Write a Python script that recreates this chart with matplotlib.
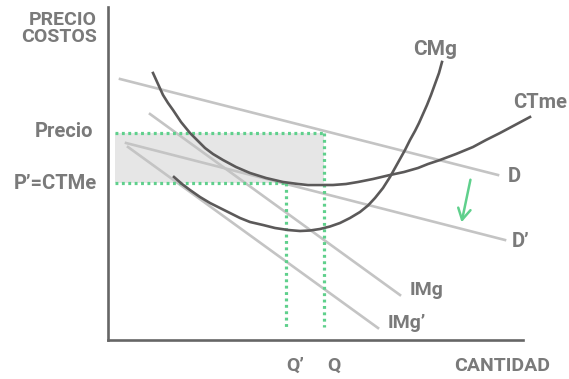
import matplotlib.pyplot as plt

plt.rcParams['font.family'] = ['Roboto', 'DejaVu Sans']

# demand lines (start, end)
d_x = [12, 390]
d_y = [261, 165]
d2_x = [18, 397]
d2_y = [197, 100]
img_x = [42, 292]
img_y = [226, 45]
img2_x = [20, 270]
img2_y = [193, 12]

# average total cost
ctme_x = [45, 50, 55, 60, 65, 73, 82, 90, 97, 105, 115, 128, 142, 158, 175, 190, 200, 212,
          225, 238, 250, 265, 282, 296, 310, 320, 332, 348, 365, 378, 392, 407, 422]
ctme_y = [267, 256, 245, 237, 230, 218, 207, 199, 192, 186, 180, 173, 167, 162, 158, 156, 155, 155,
          155, 156, 158, 161, 165, 168, 172, 176, 180, 186, 193, 200, 207, 215, 223]

# marginal cost
cmg_x = [66, 74, 82, 92, 102, 112, 122, 132, 142, 155, 167, 180, 192, 202, 212, 222, 232, 242,
         252, 260, 267, 275, 282, 287, 292, 297, 302, 307, 311, 315, 319, 323, 327, 331, 334]
cmg_y = [163, 156, 150, 143, 137, 132, 127, 122, 118, 115, 112, 110, 109, 109.5, 111, 113.5, 117, 122,
         128, 134.5, 142, 152, 163, 172, 181, 190, 200, 209, 217, 226, 235, 245, 256, 267, 278]

precio = 207
p_ctme = 157
q1 = 178
q = 216

gray_txt = "#7a7a7a"
green = "#5fd08c"

fig = plt.figure(figsize=(5.69, 3.79), dpi=100)
ax = fig.add_axes([108/569, 39/379, 415/569, 333/379])
ax.set_xlim(0, 415)
ax.set_ylim(0, 333)
for s in ["top", "right"]:
    ax.spines[s].set_visible(False)
for s in ["left", "bottom"]:
    ax.spines[s].set_color("#666666")
    ax.spines[s].set_linewidth(1.9)
ax.set_xticks([])
ax.set_yticks([])

# shaded area
ax.fill_between([7, q], p_ctme, precio, color="#e6e6e6", lw=0, zorder=1)

ax.plot(d_x, d_y, color="#c4c4c4", lw=1.9, clip_on=False, zorder=2)
ax.plot(d2_x, d2_y, color="#c4c4c4", lw=1.9, clip_on=False, zorder=2)
ax.plot(img_x, img_y, color="#c4c4c4", lw=1.9, clip_on=False, zorder=2)
ax.plot(img2_x, img2_y, color="#c4c4c4", lw=1.9, clip_on=False, zorder=2)

ax.plot(ctme_x, ctme_y, color="#5b5959", lw=1.9, clip_on=False, zorder=4, solid_joinstyle="round")
ax.plot(cmg_x, cmg_y, color="#5b5959", lw=1.9, clip_on=False, zorder=4, solid_joinstyle="round")

dots = (0, (0.9, 1.1))
ax.plot([7, q], [precio, precio], color=green, lw=2.3, ls=dots, zorder=3)
ax.plot([7, q1], [p_ctme, p_ctme], color=green, lw=2.3, ls=dots, zorder=3)
ax.plot([q1, q1], [p_ctme, 13], color=green, lw=2.3, ls=dots, zorder=3)
ax.plot([q, q], [precio, 13], color=green, lw=2.3, ls=dots, zorder=3)

ax.annotate("", xy=(353, 115), xytext=(363, 163),
            arrowprops=dict(arrowstyle="->,head_length=0.8,head_width=0.45", color=green, lw=1.8),
            annotation_clip=False)

kw = dict(color=gray_txt, fontweight="bold", va="baseline", clip_on=False)
ax.text(-11, 315, "PRECIO", ha="right", fontsize=14, **kw)
ax.text(-11, 298, "COSTOS", ha="right", fontsize=14, **kw)
ax.text(-15, 203, "Precio", ha="right", fontsize=14.5, **kw)
ax.text(-11, 151, "P’=CTMe", ha="right", fontsize=14.5, **kw)
ax.text(305, 285, "CMg", ha="left", fontsize=15, **kw)
ax.text(405, 232, "CTme", ha="left", fontsize=14.5, **kw)
ax.text(400, 158, "D", ha="left", fontsize=14.5, **kw)
ax.text(404, 93, "D’", ha="left", fontsize=14.5, **kw)
ax.text(302, 45, "IMg", ha="left", fontsize=14, **kw)
ax.text(280, 12, "IMg’", ha="left", fontsize=14, **kw)
ax.text(178, -31, "Q’", ha="left", fontsize=14, **kw)
ax.text(219, -31, "Q", ha="left", fontsize=14, **kw)
ax.text(442, -31, "CANTIDAD", ha="right", fontsize=14, **kw)

fig.savefig("out.png", dpi=100)
